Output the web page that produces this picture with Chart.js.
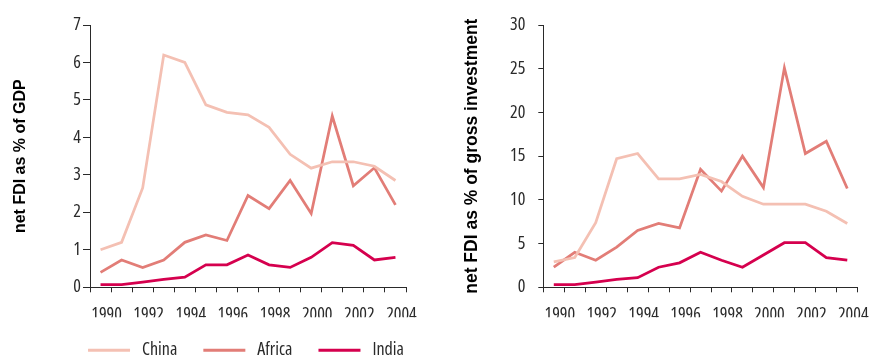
<!DOCTYPE html>
<html>
<head>
<meta charset="utf-8">
<script src="https://cdn.jsdelivr.net/npm/chart.js@4"></script>
<style>
  html, body { margin: 0; padding: 0; background: #fff; }
  #wrap { position: relative; width: 875px; height: 361px; }
  canvas { position: absolute; top: 0; }
  #gdp { left: 0; }
  #inv { left: 440px; }
</style>
</head>
<body>
<div id="wrap">
  <canvas id="gdp" width="440" height="361"></canvas>
  <canvas id="inv" width="435" height="361"></canvas>
</div>
<script>
const YEARS = ['1990', '1991', '1992', '1993', '1994', '1995', '1996', '1997',
  '1998', '1999', '2000', '2001', '2002', '2003', '2004']

// net FDI as % of GDP
const CHINA_GDP = [1.0, 1.2, 2.65, 6.2, 6.0, 4.87, 4.67, 4.6, 4.27, 3.55, 3.18, 3.35, 3.35, 3.23, 2.85]
const AFRICA_GDP = [0.4, 0.73, 0.53, 0.73, 1.2, 1.4, 1.25, 2.45, 2.1, 2.85, 1.97, 4.57, 2.71, 3.19, 2.2]
const INDIA_GDP = [0.07, 0.07, 0.14, 0.21, 0.27, 0.6, 0.6, 0.86, 0.6, 0.53, 0.8, 1.19, 1.12, 0.73, 0.8]

// net FDI as % of gross investment
const CHINA_INV = [2.9, 3.4, 7.4, 14.7, 15.3, 12.4, 12.4, 12.9, 12.1, 10.4, 9.5, 9.5, 9.5, 8.7, 7.3]
const AFRICA_INV = [2.3, 4.0, 3.1, 4.6, 6.5, 7.3, 6.8, 13.5, 11.0, 15.0, 11.4, 25.1, 15.3, 16.7, 11.3]
const INDIA_INV = [0.3, 0.3, 0.6, 0.9, 1.1, 2.3, 2.8, 4.0, 3.1, 2.3, 3.7, 5.1, 5.1, 3.4, 3.1]

const COLOUR = { China: '#F4C0B3', Africa: '#E27D77', India: '#D5004E' }
// weight string carries the stretch keyword so the canvas font reads "condensed 400 18px ..."
const FONT = '"Open Sans", "DejaVu Sans Condensed", sans-serif'
const WEIGHT = 'condensed 400'
const SIZE = 18
const TITLE_FONT = '"Liberation Sans", Arial, sans-serif'
const INK = '#2a2a2a'

// helpers
const series = (label, data) => ({
  label,
  data,
  borderColor: COLOUR[label],
  backgroundColor: COLOUR[label],
  borderWidth: 2.75,
  pointRadius: 0,
  tension: 0
})
const tickFont = { size: SIZE, weight: WEIGHT, family: FONT }

// simple line legend under the plot
const legendRow = {
  id: 'legendRow',
  afterDraw(chart) {
    const { ctx, chartArea } = chart
    const sets = chart.data.datasets
    const box = 42, gap = 12, spacing = 26
    ctx.save()
    ctx.font = `${WEIGHT} ${SIZE}px ${FONT}`
    const widths = sets.map(d => box + gap + ctx.measureText(d.label).width)
    const total = widths.reduce((a, b) => a + b, 0) + spacing * (sets.length - 1)
    let x = (chartArea.left + chartArea.right) / 2 - total / 2 - 2
    const y = chartArea.bottom + 63
    sets.forEach((d, i) => {
      ctx.strokeStyle = d.borderColor
      ctx.lineWidth = 3
      ctx.beginPath()
      ctx.moveTo(x, y)
      ctx.lineTo(x + box, y)
      ctx.stroke()
      ctx.fillStyle = INK
      ctx.textBaseline = 'middle'
      ctx.textAlign = 'left'
      ctx.fillText(d.label, x + box + gap, y)
      x += widths[i] + spacing
    })
    ctx.restore()
  }
}

function makeOptions({ max, step, title, titleSize, titlePad, yWidth, tickLen, tickPad, right }) {
  return {
    responsive: false,
    animation: false,
    layout: { padding: { top: 25, bottom: 43.7, left: 0, right } },
    plugins: { legend: { display: false }, tooltip: { enabled: false } },
    scales: {
      x: {
        type: 'category',
        offset: true,
        grid: { offset: true, drawOnChartArea: false, tickLength: 5, tickColor: INK, tickWidth: 1 },
        border: { color: INK, width: 1 },
        ticks: {
          autoSkip: false,
          maxRotation: 0,
          padding: 12,
          labelOffset: 6,
          color: INK,
          font: tickFont,
          callback: (v, i) => (i % 2 === 0 ? YEARS[i] : '')
        },
        afterFit: s => { s.height = 30 }
      },
      y: {
        min: 0,
        max,
        ticks: { stepSize: step, padding: tickPad, color: INK, font: tickFont },
        grid: { drawOnChartArea: false, tickLength: tickLen, tickColor: INK, tickWidth: 1 },
        border: { color: INK, width: 1 },
        title: {
          display: true,
          text: title,
          color: '#000',
          font: { size: titleSize, weight: 'bold', family: TITLE_FONT },
          padding: { top: titlePad, bottom: 0 }
        },
        afterFit: s => { s.width = yWidth }
      }
    }
  }
}

new Chart(document.getElementById('gdp'), {
  type: 'line',
  data: {
    labels: YEARS,
    datasets: [series('China', CHINA_GDP), series('Africa', AFRICA_GDP), series('India', INDIA_GDP)]
  },
  options: makeOptions({
    max: 7, step: 1, title: 'net FDI as % of GDP', titleSize: 16, titlePad: 10.5,
    yWidth: 90, tickLen: 7, tickPad: 2, right: 34
  }),
  plugins: [legendRow]
})

new Chart(document.getElementById('inv'), {
  type: 'line',
  data: {
    labels: YEARS,
    datasets: [series('China', CHINA_INV), series('Africa', AFRICA_INV), series('India', INDIA_INV)]
  },
  options: makeOptions({
    max: 30, step: 5, title: 'net FDI as % of gross investment', titleSize: 17.5, titlePad: 22,
    yWidth: 103.3, tickLen: 5, tickPad: 13, right: 12.3
  })
})
</script>
</body>
</html>
